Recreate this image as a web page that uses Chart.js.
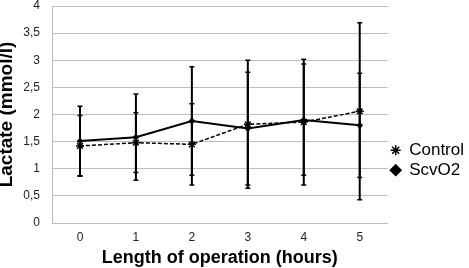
<!DOCTYPE html>
<html>
<head>
<meta charset="utf-8">
<script src="https://cdn.jsdelivr.net/npm/chart.js@4/dist/chart.umd.min.js"></script>
<style>
	html, body { margin: 0; padding: 0; background: #fff; }
	#wrap { width: 469px; height: 268px; }
</style>
</head>
<body>
<div id="wrap"><canvas id="lactate-chart"></canvas></div>
<script>
// Hours of operation
const hours = ['0', '1', '2', '3', '4', '5'];

// Mean lactate (mmol/l)
const controlMean = [1.42, 1.48, 1.45, 1.82, 1.86, 2.06];
const scvo2Mean = [1.51, 1.58, 1.88, 1.74, 1.90, 1.80];

// Error bar ends (mmol/l)
const controlLow = [0.86, 0.93, 0.70, 0.64, 0.70, 0.43];
const controlHigh = [1.98, 2.03, 2.20, 3.00, 3.02, 3.69];
const scvo2Low = [0.87, 0.79, 0.88, 0.70, 0.88, 0.84];
const scvo2High = [2.15, 2.38, 2.88, 2.78, 2.93, 2.76];

const errorBars = {
	id: 'errorBars',
	afterDatasetsDraw(chart) {
		const { ctx, scales: { x, y } } = chart;
		const sets = [[controlLow, controlHigh], [scvo2Low, scvo2High]];
		ctx.save();
		ctx.strokeStyle = '#000';
		sets.forEach(([lo, hi]) => {
			hours.forEach((_, i) => {
				const px = x.getPixelForValue(i);
				const top = y.getPixelForValue(hi[i]);
				const bottom = y.getPixelForValue(lo[i]);
				ctx.lineWidth = 2;
				ctx.beginPath();
				ctx.moveTo(px, top);
				ctx.lineTo(px, bottom);
				ctx.stroke();
				ctx.lineWidth = 1.5;
				ctx.beginPath();
				ctx.moveTo(px - 2.5, top);
				ctx.lineTo(px + 2.5, top);
				ctx.moveTo(px - 2.5, bottom);
				ctx.lineTo(px + 2.5, bottom);
				ctx.stroke();
			});
		});
		ctx.restore();
	}
};

const fam = 'Liberation Sans, Arial, sans-serif';
const tickFont = { family: fam, size: 12 };

new Chart(document.getElementById('lactate-chart'), {
	type: 'line',
	data: {
		labels: hours,
		datasets: [{
			label: 'Control',
			data: controlMean,
			borderColor: '#000',
			backgroundColor: '#000',
			borderWidth: 1.5,
			borderDash: [4, 2],
			pointStyle: 'star',
			pointRadius: 4,
			pointBorderWidth: 1.5,
			tension: 0
		}, {
			label: 'ScvO2',
			data: scvo2Mean,
			borderColor: '#000',
			backgroundColor: '#000',
			borderWidth: 2,
			pointStyle: 'rectRot',
			pointRadius: 2,
			tension: 0
		}]
	},
	options: {
		responsive: true,
		maintainAspectRatio: false,
		animation: false,
		layout: { padding: { top: 0, right: -5, bottom: 0, left: 0 } },
		plugins: {
			tooltip: { enabled: false },
			legend: {
				position: 'right',
				title: { display: true, text: '', padding: { top: 0, bottom: 38 } },
				labels: {
					color: '#000',
					font: { family: fam, size: 17 },
					usePointStyle: true,
					pointStyleWidth: 10,
					boxWidth: 7,
					boxHeight: 7,
					padding: 3
				}
			}
		},
		scales: {
			x: {
				offset: true,
				grid: { display: false, drawTicks: false },
				border: { color: '#bbb' },
				ticks: { color: '#222', font: tickFont, padding: 7 },
				title: { display: true, text: 'Length of operation (hours)', color: '#000', font: { family: fam, size: 18, weight: 'bold', lineHeight: 1 }, padding: { top: 4, bottom: 1 } },
				afterFit(scale) {
					scale.height = 45;
				}
			},
			y: {
				min: 0,
				max: 4,
				grid: { color: '#bdbdbd', drawTicks: false },
				border: { color: '#bbb' },
				ticks: {
					stepSize: 0.5,
					color: '#222',
					font: tickFont,
					padding: 12,
					callback: v => String(v).replace('.', ',')
				},
				title: { display: true, text: 'Lactate (mmol/l)', color: '#000', font: { family: fam, size: 19, weight: 'bold', lineHeight: 1 }, padding: { top: -3, bottom: 3 } },
				afterFit(scale) {
					scale.width = 52;
					scale.paddingTop = 5;
					scale.paddingBottom = 5;
				}
			}
		}
	},
	plugins: [errorBars]
});
</script>
</body>
</html>
